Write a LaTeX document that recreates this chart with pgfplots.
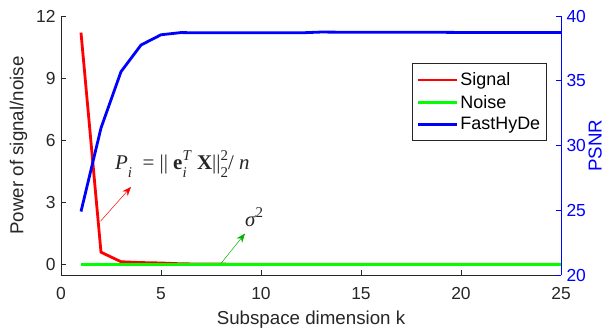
\documentclass[border=0pt]{standalone}
\usepackage{pgfplots}
\pgfplotsset{compat=1.18}
\usepackage{fontspec}
\setmainfont{Liberation Sans}
\newfontfamily\tnr{Liberation Serif}
\usetikzlibrary{arrows.meta}
\definecolor{axgray}{rgb}{0.15,0.15,0.15}
\definecolor{mgreen}{rgb}{0,1,0}
\newcommand{\sub}[1]{\raisebox{-8bp}{\fontsize{15}{17}\selectfont #1}}
\newcommand{\sps}[1]{\raisebox{9bp}{\fontsize{15}{17}\selectfont #1}}
\begin{document}
\begin{tikzpicture}
\useasboundingbox (-61bp,-58bp) rectangle (552bp,275bp);
\pgfplotsset{
  common/.style={
    scale only axis, width=500bp, height=259bp,
    at={(0,0)}, anchor=south west,
    xmin=0, xmax=25,
    xtick={0,5,10,15,20,25},
    tick align=inside,
    major tick length=5bp,
    tick label style={font=\fontsize{17.5}{20}\selectfont},
    label style={font=\fontsize{18.8}{22}\selectfont},
    /pgf/number format/assume math mode=true,
  }
}
\begin{axis}[common,
  axis y line*=left, axis x line*=bottom,
  ymin=-0.5, ymax=12,
  ytick={0,3,6,9,12},
  axis line style={axgray, line width=0.6bp},
  tick style={axgray, line width=0.6bp},
  tick label style={text=axgray},
  xticklabel style={yshift=-9bp},
  yticklabel style={xshift=-2bp},
  xlabel={Subspace dimension k},
  ylabel={Power of signal/noise},
  xlabel style={text=axgray, at={([yshift=-49bp]axis description cs:0.5,0)}, anchor=base},
  ylabel style={text=axgray, at={([xshift=-37.5bp]axis description cs:0,0.5)}, anchor=base},
  clip=false,
]
\addplot[red, line width=2.8bp] coordinates {
(1,11.2) (2,0.6) (3,0.14) (4,0.1) (5,0.08) (6,0.04) (7,0.03) (8,0.025) (9,0.02) (10,0.02)
(11,0.02) (12,0.02) (13,0.02) (14,0.02) (15,0.02) (16,0.02) (17,0.02) (18,0.02) (19,0.02) (20,0.02)
(21,0.02) (22,0.02) (23,0.02) (24,0.02) (25,0.02)};
\addplot[mgreen, line width=2.8bp] coordinates {
(1,0.02) (2,0.02) (3,0.02) (4,0.02) (5,0.02) (6,0.02) (7,0.02) (8,0.02) (9,0.02) (10,0.02)
(11,0.02) (12,0.02) (13,0.02) (14,0.02) (15,0.02) (16,0.02) (17,0.02) (18,0.02) (19,0.02) (20,0.02)
(21,0.02) (22,0.02) (23,0.02) (24,0.02) (25,0.02)};
\draw[red, line width=0.5bp, -{Stealth[length=9bp,width=7bp]}] (axis cs:1.98,2.1) -- (axis cs:3.5,3.75);
\draw[mgreen!70!black, line width=0.5bp, -{Stealth[length=9bp,width=7bp]}] (axis cs:8.0,0.06) -- (axis cs:9.2,1.5);
\node[font=\tnr\fontsize{21}{24}\selectfont, anchor=base west, inner sep=0pt, text=axgray] at (axis cs:2.7,4.6)
 {\itshape P\sub{i}\upshape\ \ = || \textbf{e}\rlap{\sps{\itshape T}}\sub{\itshape i}\ \ \textbf{X}||\rlap{\sps{2}}\sub{2}/ \itshape n};
\node[font=\tnr\fontsize{21}{24}\selectfont, anchor=base west, inner sep=0pt, text=axgray] at (axis cs:9.2,1.85)
 {\itshape σ\upshape\sps{2}};
\end{axis}
\begin{axis}[common,
  axis y line*=right, axis x line=none,
  ymin=20, ymax=40,
  ytick={20,25,30,35,40},
  axis line style={blue, line width=0.6bp},
  tick style={blue, line width=0.6bp},
  tick label style={text=blue},
  yticklabel style={xshift=2bp},
  ylabel={PSNR},
  ylabel style={text=blue, at={([xshift=40.5bp]axis description cs:1,0.5)}, anchor=base},
  legend style={at={(0.971,0.817)}, anchor=north east, draw=axgray, line width=0.6bp,
    font=\fontsize{18}{21}\selectfont, inner xsep=4bp, inner ysep=7bp, row sep=4bp,
    cells={anchor=west}},
  legend image code/.code={\draw[#1, line width=2.8bp] (0,0) -- (39bp,0);},
]
\addlegendimage{red}
\addlegendentry{Signal}
\addlegendimage{mgreen}
\addlegendentry{Noise}
\addplot[blue, line width=2.8bp] coordinates {
(1,24.9) (2,31.35) (3,35.7) (4,37.76) (5,38.55) (6,38.72) (7,38.7) (8,38.7) (9,38.7) (10,38.7)
(11,38.7) (12,38.7) (13,38.76) (14,38.75) (15,38.75) (16,38.74) (17,38.74) (18,38.74) (19,38.74) (20,38.73)
(21,38.73) (22,38.72) (23,38.72) (24,38.72) (25,38.72)};
\addlegendentry{FastHyDe}
\end{axis}
\end{tikzpicture}
\end{document}
